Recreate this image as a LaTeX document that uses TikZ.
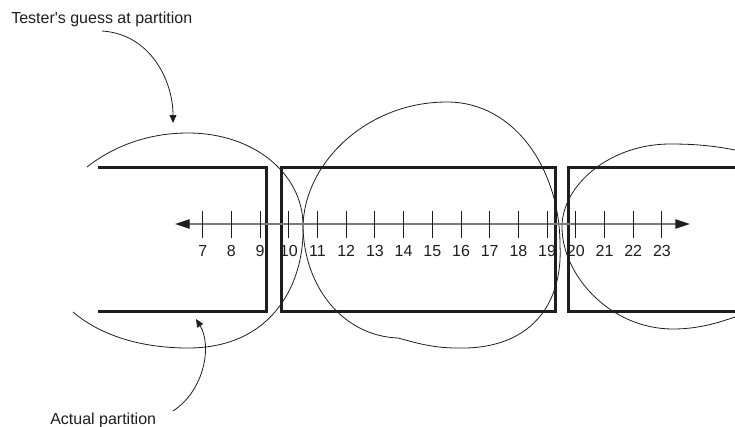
\documentclass[tikz,border=0pt]{standalone}
\usepackage{fontspec}
\setmainfont{Liberation Sans}
\usetikzlibrary{arrows.meta}
\definecolor{ptink}{HTML}{1E1E1E}
\definecolor{ptaxis}{HTML}{7A7A7A}
\tikzset{
  pt/part/.style={draw=ptink, line width=2.25pt, line join=miter},
  pt/guess/.style={draw=ptink, line width=0.6pt},
  pt/axis/.style={draw=ptaxis, line width=1pt,
    {Triangle[length=11pt, width=7pt, color=ptink]}-{Triangle[length=11pt, width=7pt, color=ptink]}},
  pt/tick/.style={draw=ptink, line width=0.7pt},
  pt/num/.style={anchor=base, inner sep=0pt, text=ptink},
  pt/note/.style={anchor=base west, inner sep=0pt, text=ptink},
  pt/pointer/.style={draw=ptink, line width=0.6pt, -{Triangle[length=6pt, width=5.2pt]}}
}

\begin{document}
\begin{tikzpicture}[x=0.75pt, y=-0.75pt, font=\fontsize{12}{14}\selectfont]
  \useasboundingbox (0,0) rectangle (735,426);

  % --- Actual partitions ---
  \draw[pt/part] (97.7,167.5) -- (266.7,167.5) -- (266.7,311) -- (97.7,311);
  \draw[pt/part] (281,167.5) rectangle (555,311);
  \draw[pt/part] (735,167.5) -- (568.3,167.5) -- (568.3,311) -- (735,311);

  % --- Tester's guesses ---
  \draw[pt/guess] (87,167) .. controls (115,145) and (150,133) .. (188,133)
    .. controls (255,133) and (303,175) .. (303,225)
    .. controls (305,280) and (275,348) .. (188,348)
    .. controls (140,348) and (100,335) .. (73,312);
  \draw[pt/guess] (447,102) .. controls (515,102) and (560,170) .. (560,245)
    .. controls (563,305) and (530,350) .. (457,348)
    .. controls (430,348) and (410,341) .. (398,338)
    .. controls (345,336) and (305,290) .. (303,228)
    .. controls (303,165) and (365,102) .. cycle;
  \draw[pt/guess] (735,150) .. controls (710,145) and (690,144) .. (670,144)
    .. controls (610,144) and (562,185) .. (562,227)
    .. controls (562,275) and (610,329) .. (673,329)
    .. controls (700,329) and (720,322) .. (735,317);

  % --- Axis ---
  \coordinate (axl) at (175,224);
  \coordinate (axr) at (690,224);
  \draw[pt/axis] (axl) -- (axr);
  \foreach \n in {7,...,23} {
    \draw[pt/tick] ({202.7+(\n-7)*28.7},211) -- ++(0,27);
    \node[pt/num] (num\n) at ({202.7+(\n-7)*28.7},256) {\n};
  }

  % --- Labels ---
  \node[pt/note] (guesslbl) at (11,23) {Tester\textquotesingle s guess at partition};
  \coordinate (guessfrom) at (102,31);
  \coordinate (guessto) at (173,123);
  \draw[pt/pointer] (guessfrom) .. controls (150,34) and (173,80) .. (guessto);

  \node[pt/note] (actlbl) at (50,424) {Actual partition};
  \coordinate (actfrom) at (173,411);
  \coordinate (actto) at (196,319);
  \draw[pt/pointer] (actfrom) .. controls (205,390) and (212,345) .. (actto);
\end{tikzpicture}
\end{document}
